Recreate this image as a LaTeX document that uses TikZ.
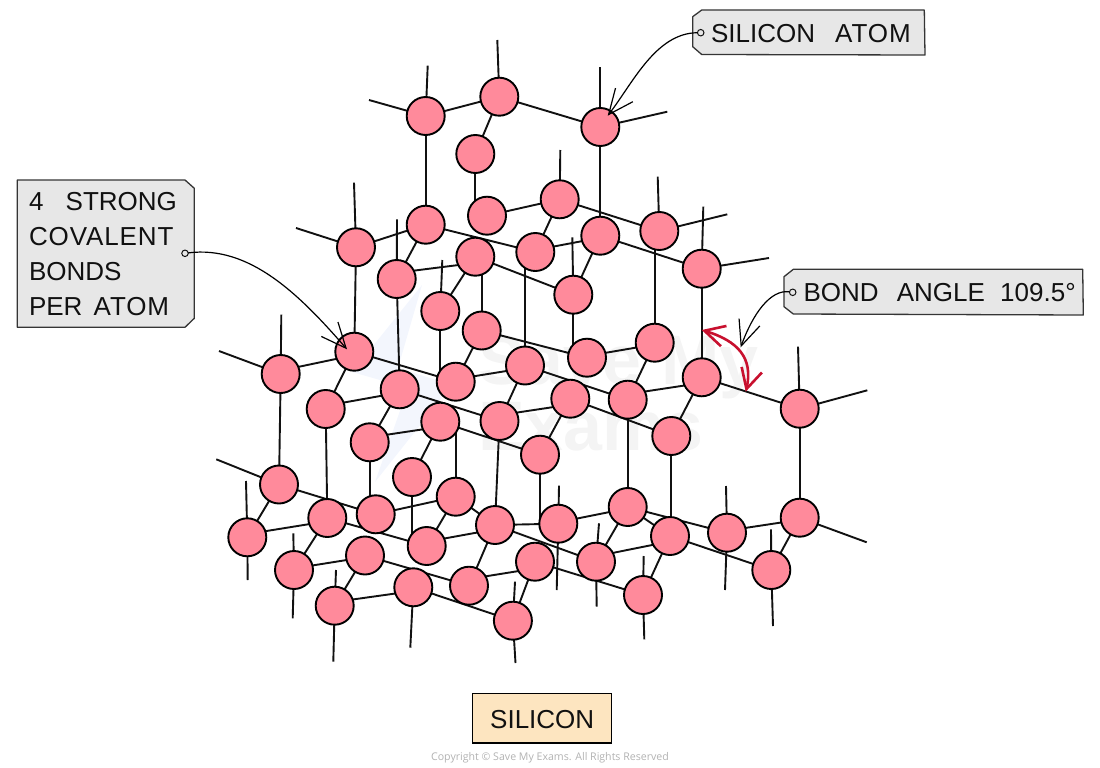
\documentclass[tikz,border=0pt]{standalone}
\usepackage{fontspec}
\setmainfont{Liberation Sans}
\newfontfamily\copyfont{Open Sans}
\usetikzlibrary{arrows.meta,backgrounds,bending}
\definecolor{atomfill}{HTML}{FF8A9B}
\definecolor{boxfill}{HTML}{E7E7E7}
\definecolor{inkline}{HTML}{111111}
\definecolor{siliconfill}{HTML}{FDE5C0}
\definecolor{anglered}{HTML}{C8102E}
\definecolor{markgrey}{HTML}{F4F4F4}
\definecolor{markblue}{HTML}{F3F6FD}
\tikzset{
  atom/.style={circle,draw=black,fill=atomfill,line width=1.9pt,minimum size=38pt,inner sep=0pt,outer sep=0pt},
  bond/.style={draw=inkline,line width=1.9pt},
  tagbox/.style={draw=inkline!85,fill=boxfill,line width=1.3pt,line join=round},
  taghole/.style={circle,draw=inkline,fill=boxfill,line width=1pt,minimum size=6.5pt,inner sep=0pt,outer sep=0pt},
  tagtext/.style={inner sep=0pt,outer sep=0pt,text=inkline,font=\fontsize{26}{35}\selectfont},
  pointer/.style={draw=black,line width=1.2pt,-{Straight Barb[length=25pt,width=22pt,line width=1.2pt,flex=0]}},
  anglearrow/.style={draw=anglered,line width=2.6pt,{Straight Barb[length=20pt,width=21pt,line width=2.6pt,flex=0]}-{Straight Barb[length=20pt,width=21pt,line width=2.6pt,flex=0]}},
}
\newcommand{\wide}[1]{{\addfontfeature{LetterSpace=3.5}#1}}
\begin{document}
\begin{tikzpicture}[x=1pt,y=-1pt]
\useasboundingbox (0,0) rectangle (1100,768);
% atoms
\foreach \n/\x/\y in {
a1/425.7/116,a2/499.3/96.7,a3/600.3/127,a4/475.3/154,a5/559.7/199.3,a6/487/215.7,
a7/425.7/224.7,a8/600.3/235.7,a9/659.3/231,a10/356/247.3,a11/475.3/256.7,a12/535.3/252,
a13/701.7/268.7,a14/396.7/279,a15/573.3/294.7,a16/440.3/311,a17/481.7/330.5,a18/354.3/351.7,
a19/654.7/342.7,a20/587/357.7,a21/525/365.5,a22/701.7/377.3,a23/280.7/374,a24/455.7/381.7,
a25/399.7/389.3,a26/570.3/398.7,a27/627.7/399.7,a28/799.7/408.7,a29/325.7/409,a30/499.5/421,
a31/440.3/421.7,a32/671.3/436,a33/369.7/442.3,a34/540/454.7,a35/412/477,a36/279/484.5,
a37/455.7/496.7,a38/627.7/507,a39/799.7/517.7,a40/327.3/518,a41/375.7/514.3,a42/495/525,
a43/558.3/523.7,a44/670/536,a45/727/532.7,a46/247.3/537.3,a47/426.7/546,a48/365/555.5,
a49/535/561.7,a50/596/561.7,a51/771.3/570,a52/294/570,a53/469/585.7,a54/413.3/587.3,
a55/643/595,a56/334.7/605.7,a57/512.9/620.7}
  {\node[atom] (\n) at (\x,\y) {};}
\begin{scope}[on background layer]
  % watermark
  \fill[markblue] (422,285) -- (352,372) -- (408,388) -- (375,482) -- (452,385) -- (398,368) -- cycle;
  \node[text=markgrey,font=\fontsize{70}{70}\selectfont\bfseries,inner sep=0pt,anchor=base west] (wm1) at (478,384) {Save My};
  \node[text=markgrey,font=\fontsize{70}{70}\selectfont\bfseries,inner sep=0pt,anchor=base west] (wm2) at (478,450) {Exams};
  % bonds between atom centres
  \foreach \a/\b in {
  a1/a2,a1/a7,a2/a3,a2/a4,a3/a8,a6/a5,a5/a12,a5/a9,a8/a13,a8/a15,
  a7/a10,a7/a14,a7/a12,a11/a16,a11/a15,a13/a22,a10/a18,
  a14/a25,a17/a24,a17/a20,a18/a29,a18/a24,a23/a36,a29/a40,
  a25/a33,a25/a30,a31/a34,a31/a35,a21/a30,a21/a27,
  a30/a42,a19/a27,a26/a34,a26/a32,a27/a38,a22/a32,a22/a28,
  a28/a39,a39/a51,a38/a44,a38/a45,a38/a50,a44/a51,a44/a55,
  a42/a43,a42/a50,a36/a46,a36/a41,a41/a37,a40/a52,a40/a47,a37/a47,a37/a42,
  a42/a53,a48/a56,a48/a53,a54/a57,a49/a57,a49/a55}
    {\draw[bond] (\a) -- (\b);}
  % upright bonds that meet the lower atom off its centre
  \foreach \a/\b in {a4/a6,a15/a20,a16/a24,a19/a9,a17/a11,a21/a12,a37/a31,a33/a41,a35/a47,a32/a44,a34/a43}
    {\draw[bond] (\a) -- (\a |- \b);}
  % shallow bonds: left atom, right atom, offset at the ends
  \foreach \a/\b/\d in {
  a23/a18/3.4,a29/a25/3.2,a33/a31/5,a24/a21/2.5,a30/a26/5.8,a20/a19/1.7,a27/a22/5.6,
  a46/a40/3.2,a47/a42/4.3,a52/a48/1.6,a56/a54/3.7,a53/a49/6.7,a43/a38/1.4,a50/a44/5.4,
  a45/a39/2,a14/a11/6.2,a12/a8/2}
    {\draw[bond] ([yshift=\d pt]\a.center) -- ([yshift=-\d pt]\b.center);}
  % bonds with a free end
  \foreach \a/\i/\x/\y in {
  a1/1/427.7/65.7,a1/2/369/100,a2/3/497.3/40,a3/4/600.3/66.7,a3/5/667.3/111.7,a5/6/560.3/150,
  a9/7/657.7/176.7,a9/8/727.3/214.3,a13/9/703.3/206.7,a13/10/769/258,a10/11/354/182.7,a10/12/296/228,
  a14/13/397/219.3,a15/14/572.3/237.3,a16/15/442.3/260,a23/16/281.3/314.7,a23/17/219/351,
  a36/18/216.3/459.3,a46/19/246/481,a46/20/247.7/580,a52/21/293.3/533.3,a52/22/292.7/618.3,
  a56/23/336/570,a56/24/333.3/661.7,a54/25/410.3/647.7,a57/26/515/581.7,a57/27/515.5/663,
  a43/28/559/485.7,a43/29/556.7/590,a45/30/726/486,a45/31/725/590,a51/32/771/529.3,a51/33/773/626,
  a55/34/643.7/556,a55/35/644.3/639.3,a50/36/599/523.3,a50/37/596.7/606.7,a28/38/798/346.7,
  a28/39/867.3/390.3,a39/40/866.7/542.3}
    {\coordinate (s\i) at (\x,\y); \draw[bond] (\a) -- (s\i);}
\end{scope}
% red angle marker
\coordinate (ang1) at (701.7,330);
\coordinate (ang2) at (745.7,391.7);
\draw[anglearrow] (ang1) .. controls (738,340) and (755,358) .. (ang2);
% tag: silicon atom
\path[tagbox] (692.7,16.7) -- (701.7,10) -- (924.3,10) -- (925,55) -- (701.7,54.5) -- (692.7,46.7) -- cycle;
\node[tagtext,anchor=base west] (t1) at (711,42.7) {SILICON\hspace{13pt} \wide{ATOM}};
\node[taghole] (h1) at (700.7,32.7) {};
\coordinate (p1) at (607.7,115.7);
\draw[pointer] (h1) .. controls (655,33) and (632,85) .. (p1);
% tag: covalent bonds
\path[tagbox] (17.3,180) -- (185,180) -- (194.3,188.3) -- (194.3,318.3) -- (185,327.3) -- (17.3,327.3) -- cycle;
\node[tagtext,anchor=north west,align=left] (t2) at (29,192) {4\hspace{15pt} STRONG\\\wide{COVALENT}\\BONDS\\PER\hspace{4pt} \wide{ATOM}};
\node[taghole] (h2) at (185,253.3) {};
\coordinate (p2) at (347,349.3);
\draw[pointer] (h2) .. controls (250,245) and (300,295) .. (p2);
% tag: bond angle
\path[tagbox] (784,276.7) -- (793.3,269.3) -- (1082.7,269.3) -- (1083.3,315) -- (793.3,314) -- (784,306.7) -- cycle;
\node[tagtext,anchor=base west] (t3) at (803.5,301.7) {BOND\hspace{11pt} ANGLE\hspace{8pt} 109.5°};
\node[taghole] (h3) at (792.7,292.3) {};
\coordinate (p3) at (740.7,347.3);
\draw[pointer] (h3) .. controls (770,289) and (752,315) .. (p3);
% name plate
\node[draw=black,fill=siliconfill,line width=1.5pt,minimum width=139pt,minimum height=49.5pt,inner sep=0pt,text height=20pt,text depth=0pt,text=inkline,font=\fontsize{26}{30}\selectfont] (plate) at (542.2,718) {SILICON};
\node[text=black!30,inner sep=0pt,font=\copyfont\fontsize{10.6}{13}\selectfont] (copy) at (550,758) {Copyright © Save My Exams. All Rights Reserved};
\end{tikzpicture}
\end{document}
